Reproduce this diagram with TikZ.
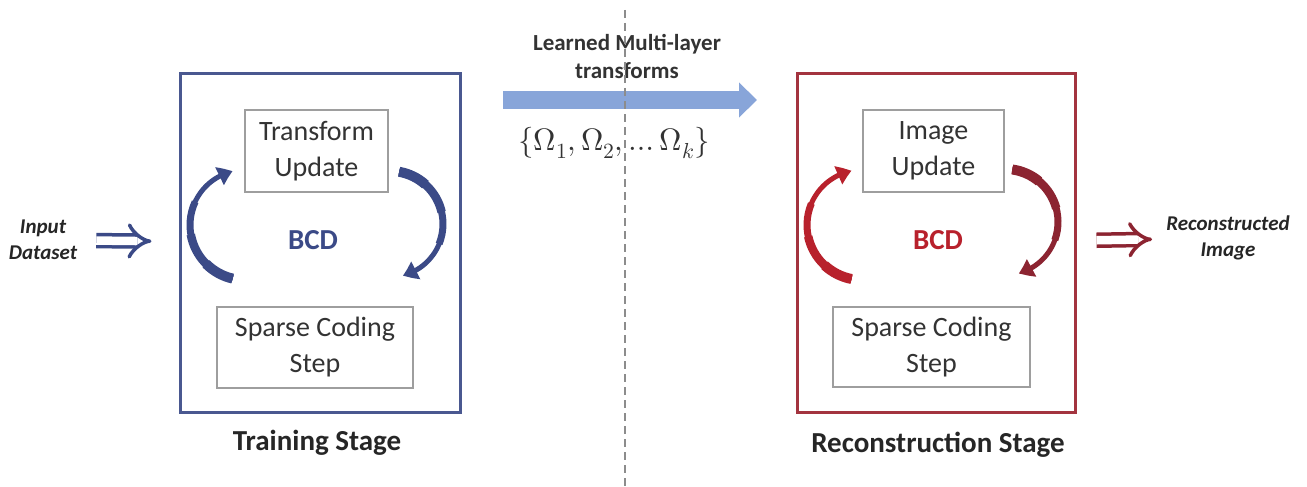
\documentclass[tikz,border=0pt]{standalone}
\usepackage{fontspec}
\usepackage{unicode-math}
\setmainfont{Carlito}
\setmathfont{Latin Modern Math}
\usetikzlibrary{arrows.meta,calc,bending}
\definecolor{bbox}{HTML}{4A5890}
\definecolor{bdark}{HTML}{3B4A87}
\definecolor{rbox}{HTML}{A3343F}
\definecolor{rlight}{HTML}{B8212C}
\definecolor{rdark}{HTML}{8C2431}
\definecolor{bigblue}{HTML}{88A5D9}
\definecolor{txt}{HTML}{333333}
\tikzset{
  outerbox/.style={draw, line width=3pt, minimum width=280pt, minimum height=338pt, inner sep=0pt},
  innerbox/.style={draw=black!38, line width=1.3pt, align=center, inner sep=0pt, text=txt,
                   font=\fontsize{28}{36}\selectfont},
  bcdlabel/.style={font=\bfseries\fontsize{29}{32}\selectfont},
  stagelabel/.style={font=\bfseries\fontsize{29}{32}\selectfont, text=black!85},
  iolabel/.style={font=\bfseries\itshape\fontsize{21}{26}\selectfont, align=center, inner sep=0pt, text=black!85},
  implies/.style={double, double distance=8.5pt, line width=3.5pt, -{Implies}},
  carrow/.style={line width=5pt, -{Triangle[width=19pt,length=14pt,bend]}},
  bigarrow/.style={draw=bigblue, line width=18pt, -{Triangle[width=34pt,length=18pt]}},
  dashline/.style={draw=black!45, line width=1.2pt, dash pattern=on 8pt off 5pt}
}
\begin{document}
\begin{tikzpicture}[x=1pt,y=-1pt]
\useasboundingbox (0,0) rectangle (1307,487);
\fill[white] (0,0) rectangle (1307,487);

% dashed separator
\coordinate (dtop) at (625,10);
\coordinate (dbot) at (625,487);

% training stage
\node[outerbox, draw=bbox] (train) at (320,243) {};
\node[innerbox, minimum width=143pt, minimum height=82pt] (tu) at (316.5,151) {Transform\\Update};
\node[innerbox, minimum width=196pt, minimum height=81pt] (sc1) at (315,347.5) {Sparse Coding\\Step};
\node[bcdlabel, text=bdark] (bcd1) at (313,240) {BCD};
\node[stagelabel] (ts) at (317,443) {Training Stage};

% reconstruction stage
\node[outerbox, draw=rbox, minimum width=278pt] (recon) at (936,243) {};
\node[innerbox, minimum width=141pt, minimum height=82pt] (iu) at (933.5,151) {Image\\Update};
\node[innerbox, minimum width=197pt, minimum height=80pt] (sc2) at (931.5,347) {Sparse Coding\\Step};
\node[bcdlabel, text=rlight] (bcd2) at (938,240) {BCD};
\node[stagelabel] (rs) at (938,445) {Reconstruction Stage};

% input / output
\node[iolabel] (in) at (43,240) {Input\\Dataset};
\node[iolabel] (out) at (1228,238) {Reconstructed\\Image};
\draw[implies, draw=bdark, shorten <=19pt, shorten >=27pt] (in) -- (train);
\draw[implies, draw=rdark, shorten <=20pt, shorten >=14pt] (recon) -- (out);

% big transfer arrow
\draw[bigarrow, shorten <=41.5pt, shorten >=38.5pt]
  ([yshift=-27.5pt]train.north east) -- ([yshift=-27.5pt]recon.north west);
\node[font=\bfseries\fontsize{23}{28}\selectfont, align=center, text=black!80] (lbl) at (627,56)
  {Learned Multi-layer\\transforms};
\node[font=\fontsize{31}{34}\selectfont, text=txt] (om) at (614,143)
  {$\{\Omega_1,\Omega_2,\ldots\Omega_k\}$};

\draw[dashline] (dtop) -- (dbot);

% BCD loops, training (blue)
\coordinate (bl0) at ([shift={(245,225)}]103:55);
\coordinate (br0) at ([shift={(390,224)}]-80:53);
\draw[line width=10pt, bdark] (bl0) arc[start angle=103, end angle=135, radius=55];
\draw[line width=8.5pt, bdark] (bl0) arc[start angle=103, end angle=170, radius=55];
\draw[line width=7pt, bdark] (bl0) arc[start angle=103, end angle=205, radius=55];
\draw[carrow, bdark] (bl0) arc[start angle=103, end angle=257, radius=55];
\draw[line width=10pt, bdark] (br0) arc[start angle=-80, end angle=-48, radius=53];
\draw[line width=8.5pt, bdark] (br0) arc[start angle=-80, end angle=-13, radius=53];
\draw[line width=7pt, bdark] (br0) arc[start angle=-80, end angle=22, radius=53];
\draw[carrow, bdark] (br0) arc[start angle=-80, end angle=76, radius=53];

% BCD loops, reconstruction (red)
\coordinate (rl0) at ([shift={(862,225)}]101:55);
\coordinate (rr0) at ([shift={(1005,222)}]-82:53);
\draw[line width=10pt, rlight] (rl0) arc[start angle=101, end angle=133, radius=55];
\draw[line width=8.5pt, rlight] (rl0) arc[start angle=101, end angle=168, radius=55];
\draw[line width=7pt, rlight] (rl0) arc[start angle=101, end angle=203, radius=55];
\draw[carrow, rlight] (rl0) arc[start angle=101, end angle=259, radius=55];
\draw[line width=10pt, rdark] (rr0) arc[start angle=-82, end angle=-50, radius=53];
\draw[line width=8.5pt, rdark] (rr0) arc[start angle=-82, end angle=-15, radius=53];
\draw[line width=7pt, rdark] (rr0) arc[start angle=-82, end angle=20, radius=53];
\draw[carrow, rdark] (rr0) arc[start angle=-82, end angle=75, radius=53];
\end{tikzpicture}
\end{document}
